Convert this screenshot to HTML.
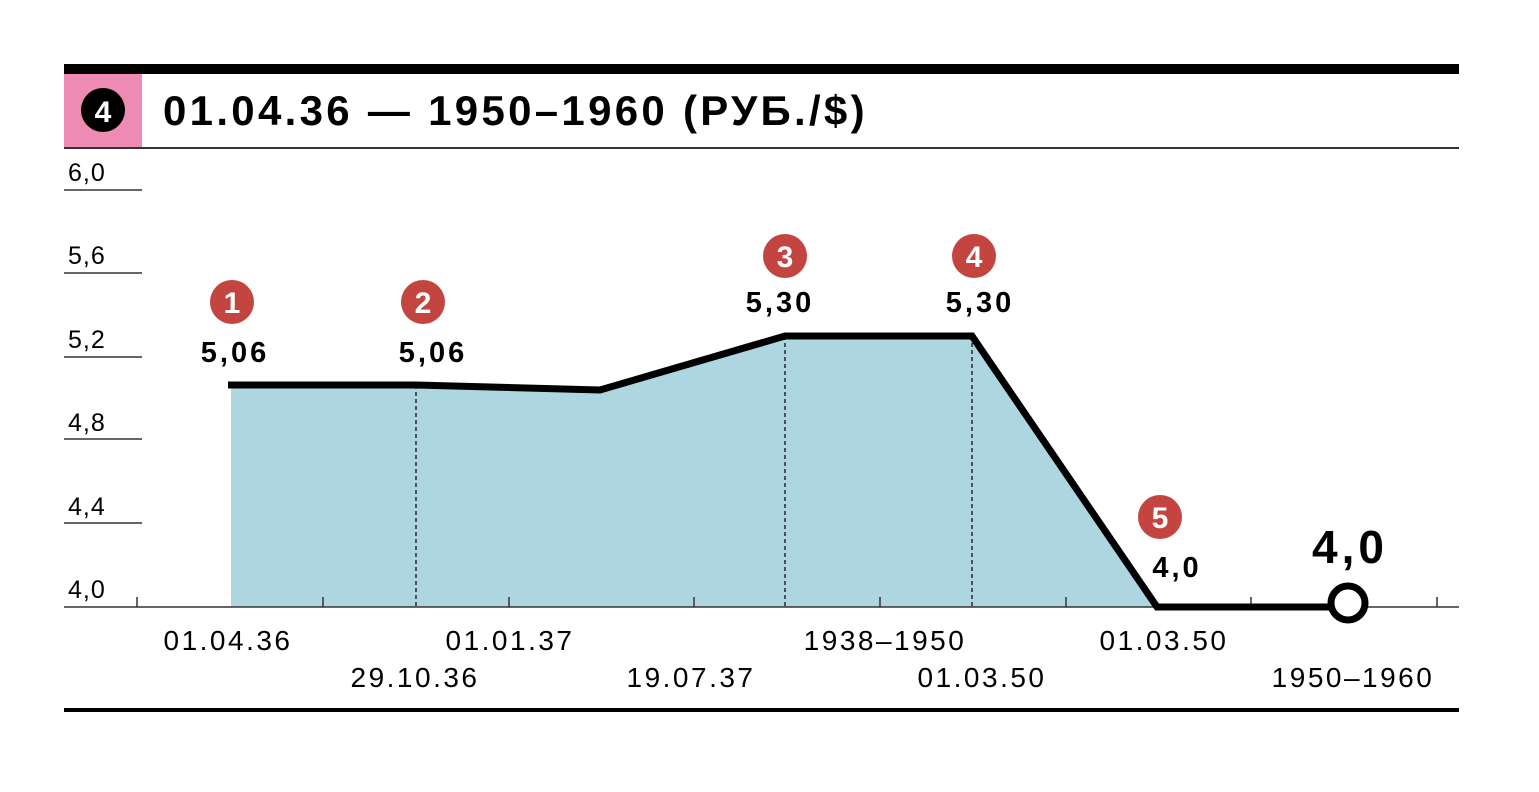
<!DOCTYPE html>
<html><head><style>body{margin:0;background:#fff}svg{display:block}text{font-family:"Liberation Sans",sans-serif}</style></head>
<body>
<svg width="1539" height="792" viewBox="0 0 1539 792">
<rect x="64" y="64" width="1395" height="10" fill="#000"/>
<rect x="64" y="74" width="78" height="74" fill="#ed8bb3"/>
<circle cx="103" cy="110" r="22" fill="#000"/>
<text x="103" y="122" font-size="30" font-weight="bold" fill="#fff" text-anchor="middle">4</text>
<text x="163" y="125" font-size="42" font-weight="bold" fill="#000" letter-spacing="3.3">01.04.36 — 1950–1960 (РУБ./$)</text>
<rect x="64" y="147" width="1395" height="2" fill="#333"/>
<g font-size="25" fill="#000" letter-spacing="1">
<text x="68" y="181">6,0</text><text x="68" y="264">5,6</text><text x="68" y="348">5,2</text>
<text x="68" y="431">4,8</text><text x="68" y="515">4,4</text><text x="68" y="598">4,0</text>
</g>
<g stroke="#333" stroke-width="1.5">
<line x1="64" y1="190" x2="142" y2="190"/><line x1="64" y1="273" x2="142" y2="273"/>
<line x1="64" y1="357" x2="142" y2="357"/><line x1="64" y1="439" x2="142" y2="439"/>
<line x1="64" y1="523" x2="142" y2="523"/>
</g>
<polygon points="231,385 416,385 600,390 785,336 972,336 1157,607 231,607" fill="#aed6e0"/>
<g stroke="#000" stroke-width="1.2" stroke-dasharray="4,3">
<line x1="416" y1="385" x2="416" y2="607"/><line x1="785" y1="336" x2="785" y2="607"/><line x1="972" y1="336" x2="972" y2="607"/>
</g>
<line x1="64" y1="607" x2="1459" y2="607" stroke="#333" stroke-width="1.5"/>
<g stroke="#333" stroke-width="1.5">
<line x1="137" y1="597" x2="137" y2="607"/><line x1="323" y1="597" x2="323" y2="607"/><line x1="509" y1="597" x2="509" y2="607"/>
<line x1="694" y1="597" x2="694" y2="607"/><line x1="880" y1="597" x2="880" y2="607"/><line x1="1066" y1="597" x2="1066" y2="607"/>
<line x1="1251" y1="597" x2="1251" y2="607"/><line x1="1437" y1="597" x2="1437" y2="607"/>
</g>
<polyline points="228,385 416,385 600,390 785,336 972,336 1157,607 1332,607" fill="none" stroke="#000" stroke-width="7" stroke-linejoin="miter"/>
<circle cx="1348" cy="603" r="17" fill="#fff" stroke="#000" stroke-width="7"/>
<g fill="#c4453f">
<circle cx="232" cy="302" r="22"/><circle cx="423" cy="302" r="22"/><circle cx="785" cy="256" r="22"/>
<circle cx="974" cy="256" r="22"/><circle cx="1160" cy="517" r="22"/>
</g>
<g font-size="30" font-weight="bold" fill="#fff" text-anchor="middle">
<text x="232" y="313">1</text><text x="423" y="313">2</text><text x="785" y="267">3</text><text x="974" y="267">4</text><text x="1160" y="528">5</text>
</g>
<g font-size="29" font-weight="bold" fill="#000" text-anchor="middle" letter-spacing="3">
<text x="235" y="362">5,06</text><text x="433" y="362">5,06</text><text x="780" y="312">5,30</text>
<text x="980" y="312">5,30</text><text x="1177" y="577">4,0</text>
<text x="1350" y="563" font-size="46" letter-spacing="4">4,0</text>
</g>
<g font-size="28" fill="#000" text-anchor="middle" letter-spacing="2.5">
<text x="228" y="650">01.04.36</text><text x="510" y="650">01.01.37</text><text x="885" y="650">1938–1950</text><text x="1164" y="650">01.03.50</text>
<text x="415" y="687">29.10.36</text><text x="691" y="687">19.07.37</text><text x="982" y="687">01.03.50</text><text x="1353" y="687">1950–1960</text>
</g>
<rect x="64" y="708" width="1395" height="4" fill="#000"/>
</svg>
</body></html>
